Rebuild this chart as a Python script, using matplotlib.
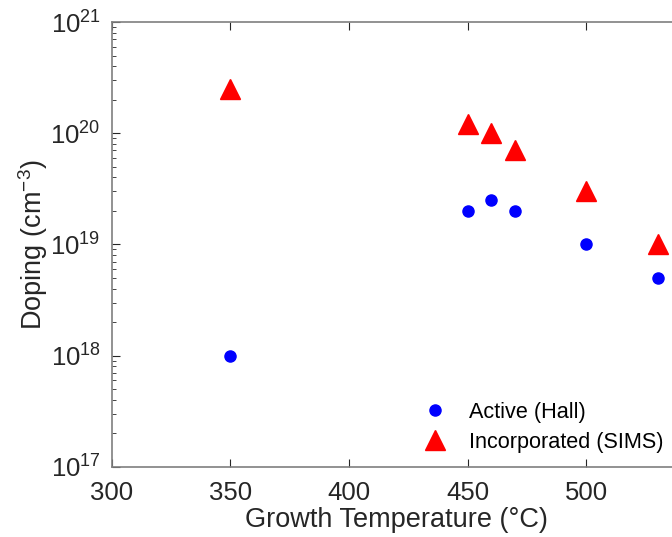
import matplotlib
matplotlib.use("Agg")
import matplotlib.pyplot as plt

plt.rcParams["font.family"] = ["Liberation Sans", "DejaVu Sans"]
plt.rcParams["mathtext.fontset"] = "custom"
plt.rcParams["mathtext.rm"] = "Liberation Sans"
plt.rcParams["mathtext.it"] = "Liberation Sans:italic"

temp = [350, 450, 460, 470, 500, 530]
hall = [1e18, 2e19, 2.5e19, 2e19, 1e19, 5e18]
sims = [2.5e20, 1.2e20, 1e20, 7e19, 3e19, 1e19]

fig = plt.figure(figsize=(6.72, 5.37), dpi=100)
ax = fig.add_axes([0.1662, 0.1309, 0.8476, 0.828])

ax.semilogy(temp, hall, "o", color="blue", markersize=8, label="Active (Hall)")
ax.semilogy(temp, sims, "^", color="red", markersize=14, label="Incorporated (SIMS)")

ax.set_xlim(300, 540)
ax.set_ylim(1e17, 1e21)
ax.set_xticks([300, 350, 400, 450, 500])

for s in ax.spines.values():
    s.set_color("#7f7f7f")
    s.set_linewidth(1.2)
ax.tick_params(which="both", direction="in", top=True, right=True, colors="#262626",
               labelsize=18.5)
ax.tick_params(which="major", length=6)
ax.tick_params(which="minor", length=3)
ax.tick_params(axis="x", pad=10)
ax.tick_params(axis="y", pad=8)

ax.set_xlabel("Growth Temperature (°C)", fontsize=19.5, color="#262626", labelpad=2)
ax.set_ylabel("Doping (cm$^{-3}$)", fontsize=19.5, color="#262626", labelpad=0)

ax.legend(loc="lower left", bbox_to_anchor=(0.515, 0.012), frameon=False, fontsize=15.6,
          handletextpad=0.55, labelspacing=0.4, borderaxespad=0)

fig.savefig("out.png", dpi=100)
